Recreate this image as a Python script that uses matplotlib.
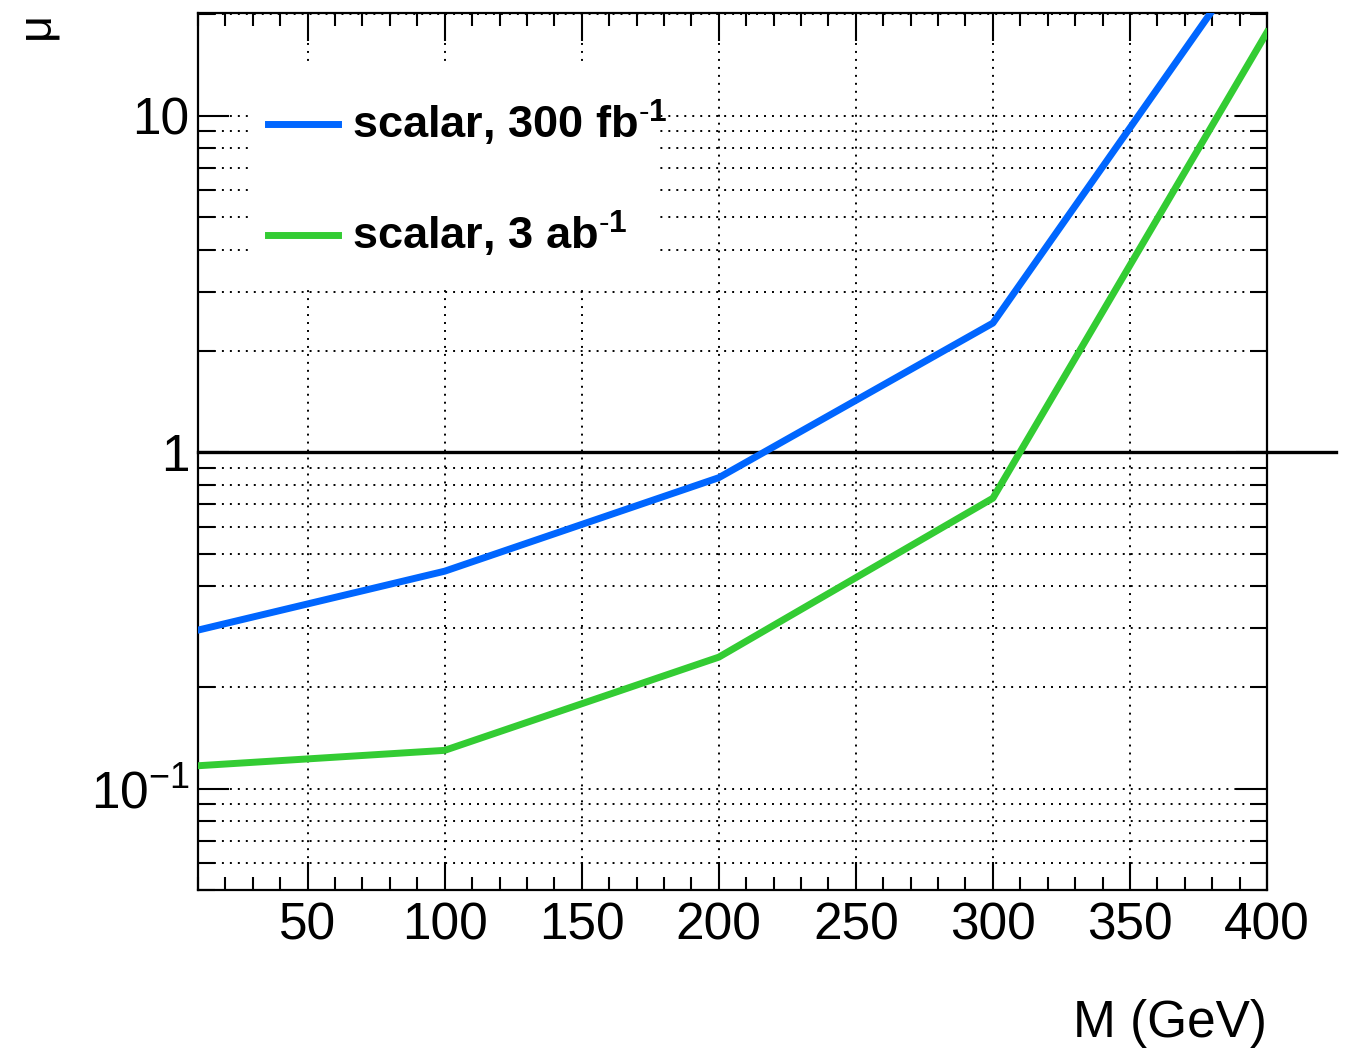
import numpy as np
import matplotlib
matplotlib.use('Agg')
import matplotlib.pyplot as plt
from matplotlib.patches import Rectangle
from matplotlib.ticker import MultipleLocator, FixedLocator, NullFormatter

plt.rcParams['font.family'] = ['Liberation Sans', 'DejaVu Sans']
plt.rcParams['mathtext.fontset'] = 'custom'
plt.rcParams['mathtext.rm'] = 'Liberation Sans'
plt.rcParams['mathtext.bf'] = 'Liberation Sans:bold'

# data
mass = [10, 100, 200, 300, 400]
mu_300fb = [0.296, 0.443, 0.84, 2.42, 35.0]
mu_3ab = [0.117, 0.130, 0.246, 0.73, 17.7]
labels = [r'scalar, 300 fb$^{\mathbf{\text{-}1}}$',
          r'scalar, 3 ab$^{\mathbf{\text{-}1}}$']
colors = ['#0066ff', '#33cc33']

ref_level = 1.0
ref_x = [10, 425]

xticks = [50, 100, 150, 200, 250, 300, 350, 400]
yticks = [0.1, 1, 10]
yticklabels = [r'$10^{-1}$', '1', '10']

fig = plt.figure(figsize=(13.47, 10.49), dpi=100)
ax = fig.add_axes([0.147, 0.1516, 0.7936, 0.836])

ax.set_yscale('log')
ax.set_xlim(10, 400)
ax.set_ylim(0.05, 20.2)

dots = (0, (1, 3.1))
ax.set_xticks(xticks)
ax.xaxis.set_minor_locator(MultipleLocator(10))
ax.yaxis.set_major_locator(FixedLocator(yticks))
ax.set_yticklabels(yticklabels)
minor_y = [m * 10.0 ** e for e in (-2, -1, 0, 1) for m in range(2, 10)]
ax.yaxis.set_minor_locator(FixedLocator(minor_y))
ax.yaxis.set_minor_formatter(NullFormatter())

ax.grid(which='major', axis='x', color='k', ls=dots, lw=1.4)
ax.grid(which='both', axis='y', color='k', ls=dots, lw=1.4)
ax.set_axisbelow(True)

ax.tick_params(which='both', direction='in', top=True, right=True, width=1.5,
               labelsize=37)
ax.tick_params(axis='x', which='major', length=20, pad=8)
ax.tick_params(axis='x', which='minor', length=9.5)
ax.tick_params(axis='y', which='major', length=22, pad=6)
ax.tick_params(axis='y', which='minor', length=12)
for s in ax.spines.values():
    s.set_linewidth(1.6)

# legend box (white, hides the grid)
ax.add_patch(Rectangle((0.05, 0.684), 0.382, 0.257, transform=ax.transAxes,
                       facecolor='white', edgecolor='none', zorder=1.5))

ax.plot(mass, mu_300fb, color=colors[0], lw=5, zorder=3)
ax.plot(mass, mu_3ab, color=colors[1], lw=5, zorder=3)
ax.plot(ref_x, [ref_level, ref_level], color='k', lw=2.4, clip_on=False, zorder=2.5)

for i, (lab, col) in enumerate(zip(labels, colors)):
    yy = 0.8734 - i * 0.1268
    ax.plot([0.0655, 0.131], [yy, yy], color=col, lw=5, transform=ax.transAxes,
            zorder=3)
    ax.text(0.144, yy - 0.017, lab, transform=ax.transAxes, fontsize=32.5,
            fontweight='bold', va='baseline', ha='left', zorder=3)

fig.text(0.9406, 0.0114, 'M (GeV)', fontsize=37, ha='right', va='baseline')
fig.text(0.027, 0.976, 'μ', fontsize=34, rotation=90, ha='center',
         va='center')

fig.savefig('out.png', dpi=100)
